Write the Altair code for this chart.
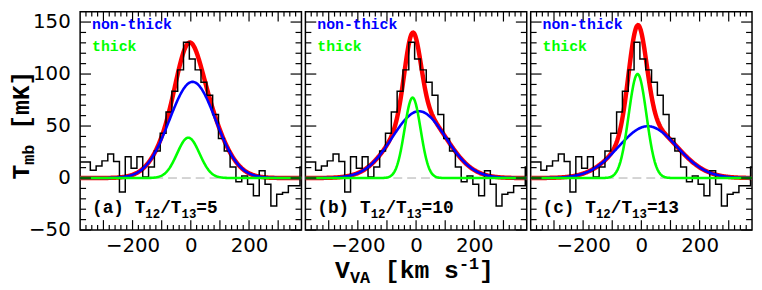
import altair as alt
import pandas as pd

# ---------------- data ----------------
VEL = list(range(-375, 386, 20))          # channel centres [km/s]
TMB = [15.5, 15.5, 7.5, 11.5, 16.5, 23.0, 16.0, -13.5, 20.5, 9.5,
       20.5, 1.0, 10.5, 26.0, 43.0, 63.5, 83.5, 104.0, 130.5, 114.5,
       104.0, 92.0, 79.5, 61.0, 38.0, 26.0, 10.5, -3.5, 2.0, -6.0,
       -17.0, 7.0, -6.0, -27.0, -15.5, -14.0, -7.5, -7.5, 10.7]
CHAN = 20

PANEL_TAGS = ["(a)", "(b)", "(c)"]
RATIOS = ["5", "10", "13"]
# Gaussian fit parameters (amplitude mK, centre km/s, sigma km/s)
NONTHICK_AMP = [92.5, 64.2, 49.8]
NONTHICK_CEN = [6.0, 10.0, 22.0]
NONTHICK_SIG = [79.0, 92.0, 100.0]
THICK_AMP = [38.8, 77.3, 100.0]
THICK_CEN = [-8.5, -12.0, -13.0]
THICK_SIG = [38.6, 27.6, 30.6]

XDOM = [-380, 380]
YDOM = [-50, 160]
X_LABELS = [-200, 0, 200]
Y_LABELS = [-50, 0, 50, 100, 150]
X_MAJOR = [-300, -200, -100, 0, 100, 200, 300]
X_MINOR = [v for v in range(-360, 361, 20) if v % 100 != 0]
Y_MAJOR = [-50, 0, 50, 100, 150]
Y_MINOR = [v for v in range(-40, 160, 10) if v % 50 != 0]

# ---------------- styling ----------------
W, H = 224, 221
RED, BLUE, GREEN = "#ff0000", "#0000ff", "#00ff00"
MONO = "Liberation Mono"
SANS = "DejaVu Sans"
xs = alt.Scale(domain=XDOM, nice=False, zero=False)
ys = alt.Scale(domain=YDOM, nice=False, zero=False)
ONE = pd.DataFrame({"k": [0]})


def rich(segs, x0, y0, color="black", angle=0):
    out = []
    pos = 0.0
    for txt, size, shift in segs:
        lead = len(txt) - len(txt.lstrip(" "))
        pos += 0.6 * size * lead
        body = txt.lstrip(" ")
        if angle == 0:
            x, y = x0 + pos, y0 + shift
        else:
            x, y = x0 + shift, y0 - pos
        out.append(
            alt.Chart(ONE).mark_text(
                text=body, font=MONO, fontSize=size, fontWeight="bold",
                align="left", baseline="alphabetic", angle=angle, color=color
            ).encode(x=alt.value(x), y=alt.value(y))
        )
        pos += 0.6 * size * len(body)
    return out


def panel(i):
    X_AX = alt.Axis(values=X_LABELS, ticks=False, domain=False, grid=False,
                    labelPadding=6, labelFont=SANS, labelFontSize=20,
                    labelColor="black", title=None, labelFlush=False)
    if i == 0:
        Y_AX = alt.Axis(values=Y_LABELS, ticks=False, domain=False, grid=False,
                        labelPadding=10, labelFont=SANS, labelFontSize=20,
                        labelColor="black", title=None)
    else:
        Y_AX = alt.Axis(values=Y_LABELS, ticks=False, domain=False, grid=False,
                        labels=False, title=None)

    def X(f):
        return alt.X(f, scale=xs, axis=X_AX)

    def Y(f):
        return alt.Y(f, scale=ys, axis=Y_AX)

    hist_df = pd.DataFrame({
        "v": [v - CHAN / 2 for v in VEL] + [VEL[-1] + CHAN / 2],
        "t": TMB + [TMB[-1]],
    })
    hist = alt.Chart(hist_df).mark_line(
        interpolate="step-after", color="black", strokeWidth=1.5, clip=True
    ).encode(x=X("v:Q"), y=Y("t:Q"))

    a1, m1, s1 = NONTHICK_AMP[i], NONTHICK_CEN[i], NONTHICK_SIG[i]
    a2, m2, s2 = THICK_AMP[i], THICK_CEN[i], THICK_SIG[i]
    curves = alt.Chart(alt.sequence(XDOM[0], XDOM[1] + 1, 2, as_="v")).transform_calculate(
        nt=f"{a1}*exp(-0.5*pow((datum.v-({m1}))/{s1},2))",
        tk=f"{a2}*exp(-0.5*pow((datum.v-({m2}))/{s2},2))",
    ).transform_calculate(tot="datum.nt+datum.tk")
    red = curves.mark_line(color=RED, strokeWidth=4.5, clip=True).encode(
        x=X("v:Q"), y=Y("tot:Q"))
    blue = curves.mark_line(color=BLUE, strokeWidth=2.6, clip=True).encode(
        x=X("v:Q"), y=Y("nt:Q"))
    green = curves.mark_line(color=GREEN, strokeWidth=2.6, clip=True).encode(
        x=X("v:Q"), y=Y("tk:Q"))

    zero = alt.Chart(pd.DataFrame({"y": [0]})).mark_rule(
        color="#aaaaaa", strokeWidth=1, strokeDash=[9, 5]
    ).encode(y=Y("y:Q"))

    tk = []
    for vals, ln in ((Y_MAJOR, 11), (Y_MINOR, 6)):
        df = pd.DataFrame({"y": vals})
        for a, b in ((0, ln), (W - ln, W)):
            tk.append(alt.Chart(df).mark_rule(color="black", strokeWidth=1.2).encode(
                y=Y("y:Q"), x=alt.value(a), x2=alt.value(b)))
    for vals, ln in ((X_MAJOR, 10), (X_MINOR, 5)):
        df = pd.DataFrame({"x": vals})
        for a, b in ((H - ln, H), (0, ln)):
            tk.append(alt.Chart(df).mark_rule(color="black", strokeWidth=1.2).encode(
                x=X("x:Q"), y=alt.value(a), y2=alt.value(b)))

    texts = []
    texts += rich([("non-thick", 15, 0)], 12, 18, color=BLUE)
    texts += rich([("thick", 15, 0)], 12, 40, color=GREEN)
    texts += rich([(PANEL_TAGS[i] + " T", 18, 0), ("12", 12.5, 5), ("/T", 18, 0),
                   ("13", 12.5, 5), ("=" + RATIOS[i], 18, 0)], 12, 204)
    if i == 0:
        texts += rich([("T", 25, 0), ("mb", 17, 5), (" [mK]", 25, 0)],
                      -52, 170, angle=270)
    if i == 1:
        texts += rich([("V", 25, 0), ("VA", 17, 5), (" [km s", 25, 0),
                       ("-1", 17, -10), ("]", 25, 0)], 30, 270)

    return alt.layer(zero, red, hist, blue, green, *tk, *texts).properties(
        width=W, height=H)


chart = alt.hconcat(*[panel(i) for i in range(3)], spacing=0).properties(
    padding=0, background="white"
).configure_view(stroke="black", strokeWidth=1.5)

chart.save("out.html", embed_options={"renderer": "svg", "actions": False})
